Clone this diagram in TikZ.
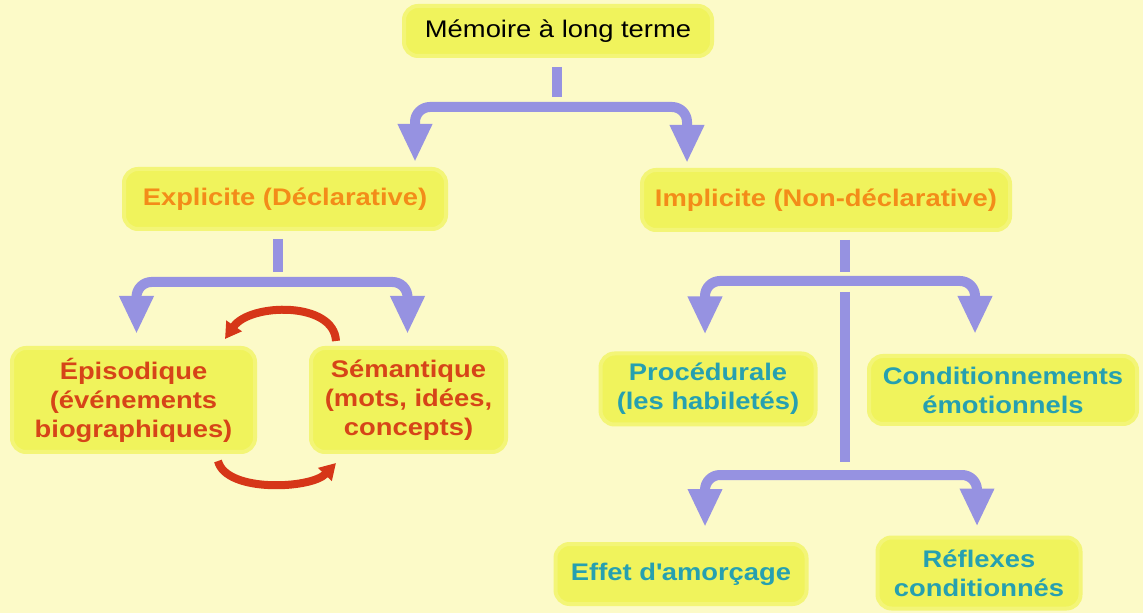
\documentclass[tikz,border=0pt]{standalone}
\usepackage{fontspec}
\setmainfont{Liberation Sans}[FakeStretch=1.14]
\usepackage{tikz}
\usetikzlibrary{arrows.meta}

\definecolor{bgcream}{RGB}{252,250,200}
\definecolor{boxyellow}{RGB}{240,243,92}
\definecolor{lavender}{RGB}{150,146,225}
\definecolor{orangetxt}{RGB}{243,140,25}
\definecolor{redtxt}{RGB}{214,68,24}
\definecolor{tealtxt}{RGB}{38,160,176}
\definecolor{redarrow}{RGB}{214,54,24}

\begin{document}
\begin{tikzpicture}[x=0.5pt,y=-0.5pt,
    box/.style={fill=boxyellow, draw=boxyellow!75!bgcream, line width=2pt,
        rounded corners=7pt, align=center, inner sep=0pt,
        font=\fontsize{12}{14.5}\selectfont\bfseries},
    stem/.style={draw=lavender, line width=5pt},
    fork/.style={stem, rounded corners=7.5pt,
        {Triangle[width=16pt,length=19pt]}-{Triangle[width=16pt,length=19pt]}},
    recall/.style={draw=redarrow, line width=4pt, -{Triangle[width=9pt,length=8pt]}}]

    \useasboundingbox[fill=bgcream] (0,0) rectangle (1143,613);

    % boxes
    \node[box, font=\fontsize{12}{14.5}\selectfont, minimum width=154pt, minimum height=25pt] (mlt) at (558,31) {Mémoire à long terme};
    \node[box, text=orangetxt, minimum width=161pt, minimum height=30pt] (expl) at (285,199) {Explicite (Déclarative)};
    \node[box, text=orangetxt, minimum width=184pt, minimum height=30pt] (impl) at (826,200) {Implicite (Non-déclarative)};
    \node[box, text=redtxt, minimum width=121.5pt, minimum height=52pt] (epi) at (133.5,400) {Épisodique\\(événements\\biographiques)};
    \node[box, text=redtxt, minimum width=97.5pt, minimum height=52pt] (sem) at (408.5,400) {Sémantique\\(mots, idées,\\concepts)};
    \node[box, text=tealtxt, minimum width=107.5pt, minimum height=35.5pt] (proc) at (708,389) {Procédurale\\(les habiletés)};
    \node[box, text=tealtxt, minimum width=134pt, minimum height=34pt] (cond) at (1003,390) {Conditionnements\\émotionnels};
    \node[box, text=tealtxt, minimum width=125.5pt, minimum height=30pt] (eff) at (681,574) {Effet d\textquotesingle amorçage};
    \node[box, text=tealtxt, minimum width=101.5pt, minimum height=35.5pt] (refl) at (979,573) {Réflexes\\conditionnés};

    % branch points
    \coordinate (f1) at (557,107);
    \coordinate (f2) at (278,282);
    \coordinate (f3) at (845,281);
    \coordinate (f4) at (845,475);

    % stems
    \draw[stem] (mlt.south -| f1) ++(0,9) -- ([shift={(0,-10)}]f1);
    \draw[stem] (expl.south -| f2) ++(0,8) -- ([shift={(0,-10)}]f2);
    \draw[stem] (impl.south -| f3) ++(0,8) -- ([shift={(0,-9)}]f3);
    \draw[stem] ([shift={(0,11)}]f3) -- ([shift={(0,-13)}]f4);

    % forks
    \draw[fork] ([shift={(130,-5)}]expl.north) |- (f1) -| ([shift={(-139,-5)}]impl.north);
    \draw[fork] ([shift={(3,-12)}]epi.north) |- (f2) -| ([shift={(-1,-12)}]sem.north);
    \draw[fork] ([shift={(-3,-17)}]proc.north) |- (f3) -| ([shift={(-28,-20)}]cond.north);
    \draw[fork] ([shift={(24,-15)}]eff.north) |- (f4) -| ([shift={(-2,-9)}]refl.north);

    % red loop between episodic and semantic
    \draw[recall] ([shift={(27,-5)}]sem.north west) .. controls +(-2,-40) and +(25,-36) .. ([shift={(-32,-7)}]epi.north east);
    \draw[recall] ([shift={(-39,7)}]epi.south east) .. controls +(8,32) and +(-25,26) .. ([shift={(27,9)}]sem.south west);
\end{tikzpicture}
\end{document}
